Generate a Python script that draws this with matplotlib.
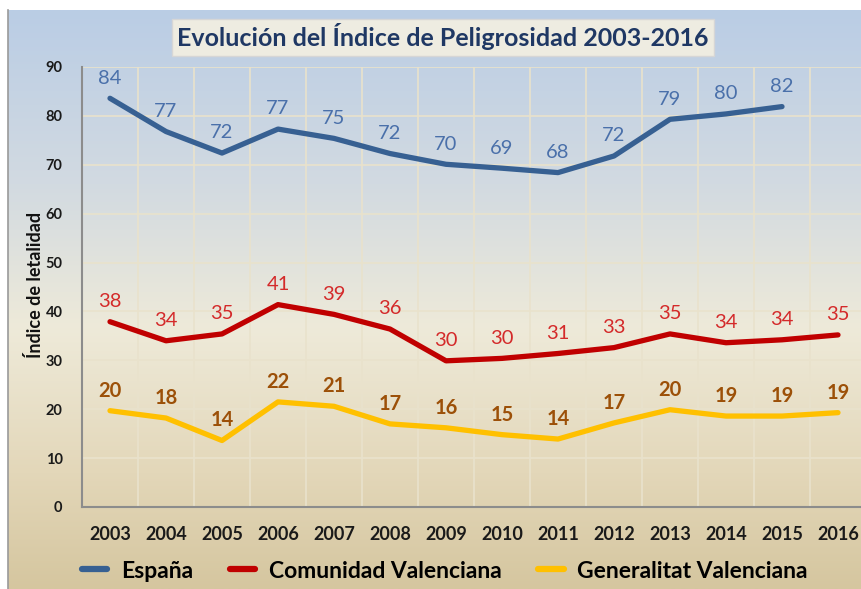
import numpy as np
import matplotlib
matplotlib.use("Agg")
from matplotlib import pyplot as plt
from matplotlib.colors import LinearSegmentedColormap

plt.rcParams['font.family'] = ['Lato', 'DejaVu Sans']

years = ["2003", "2004", "2005", "2006", "2007", "2008", "2009",
         "2010", "2011", "2012", "2013", "2014", "2015", "2016"]
espana = [83.6, 76.8, 72.4, 77.3, 75.4, 72.3, 70.1, 69.3, 68.4, 71.8, 79.3, 80.4, 81.9, np.nan]
comunidad = [37.9, 34.0, 35.4, 41.4, 39.4, 36.4, 29.9, 30.4, 31.4, 32.6, 35.4, 33.6, 34.2, 35.2]
generalitat = [19.7, 18.2, 13.6, 21.5, 20.6, 17.0, 16.2, 14.8, 13.9, 17.2, 19.9, 18.6, 18.6, 19.3]

W, H = 862, 589
fig = plt.figure(figsize=(W / 100, H / 100), dpi=100)

# background gradient of the chart area
bg = fig.add_axes([8 / W, 0, 1 - 8 / W, (H - 10) / H], zorder=0)
cmap = LinearSegmentedColormap.from_list(
    "bg", [(0, "#bacde5"), (0.3, "#d2dae1"), (0.55, "#eeead9"), (0.8, "#e3d7b9"), (1, "#d5c69f")])
grad = np.linspace(0, 1, 256).reshape(-1, 1)
bg.imshow(grad, aspect="auto", cmap=cmap, extent=[0, 1, 0, 1])
bg.set_xticks([])
bg.set_yticks([])
for s in ["top", "right", "bottom"]:
    bg.spines[s].set_visible(False)
bg.spines["left"].set_color("#9a9a9a")
bg.spines["left"].set_linewidth(1.2)

ax = fig.add_axes([82 / W, (H - 507) / H, 784 / W, (507 - 67) / H], zorder=1)
ax.patch.set_alpha(0)
x = np.arange(len(years))

series = [
    ("España", espana, "#376092", "#4a70aa", "normal"),
    ("Comunidad Valenciana", comunidad, "#c00000", "#d42a2a", "normal"),
    ("Generalitat Valenciana", generalitat, "#ffc000", "#9c5008", "bold"),
]
for name, vals, lc, tc, fw in series:
    ax.plot(x, vals, color=lc, lw=3.8, solid_capstyle="round", solid_joinstyle="round", label=name)
    for xi, v in zip(x, vals):
        if np.isnan(v):
            continue
        ax.annotate(f"{round(v):d}", (xi, v), xytext=(0, 14.5), textcoords="offset points",
                    ha="center", va="center", color=tc, fontsize=14.5, fontweight=fw)

ax.set_xlim(-0.5, 13.5)
ax.set_ylim(0, 90)
ax.set_yticks(range(0, 91, 10))
ax.set_xticks(x)
ax.set_xticklabels(years)
ax.set_xticks(np.arange(-0.5, 14, 1), minor=True)
ax.grid(False)
ax.grid(True, which="minor", axis="x", color="#e9e2cc", lw=1.2)
ax.grid(True, which="major", axis="y", color="#e9e2cc", lw=1.2)
ax.set_axisbelow(True)
ax.tick_params(axis="x", which="both", length=0, pad=14, labelsize=13, labelcolor="#1a1a1a")
ax.tick_params(axis="y", length=0, pad=14, labelsize=10.5, labelcolor="#1a1a1a")
for lab in ax.get_xticklabels():
    lab.set_fontweight("bold")
for lab in ax.get_yticklabels():
    lab.set_fontweight("bold")
for s in ["top", "right"]:
    ax.spines[s].set_visible(False)
for s in ["left", "bottom"]:
    ax.spines[s].set_color("#8c8c8c")
    ax.spines[s].set_linewidth(1.5)

fig.text(35 / W, 1 - 285 / H, "Índice de letalidad", rotation=90, ha="center", va="center",
         fontsize=13, fontweight="bold", color="#111111")

fig.text(443 / W, 1 - 37 / H, "Evolución del Índice de Peligrosidad 2003-2016",
         ha="center", va="center", fontsize=18, fontweight="bold", color="#1f3864",
         bbox=dict(boxstyle="square,pad=0.2", fc="#eeece1", ec="#d6d6d6", lw=1))

leg = fig.legend(loc="center", bbox_to_anchor=(445 / W, 1 - 571 / H), ncol=3, frameon=False,
                 prop={"weight": "bold", "size": 16.5}, handlelength=1.1, handletextpad=0.6,
                 columnspacing=1.6)
for line in leg.get_lines():
    line.set_linewidth(4.5)
    line.set_solid_capstyle("round")

fig.savefig("out.png", dpi=100)
